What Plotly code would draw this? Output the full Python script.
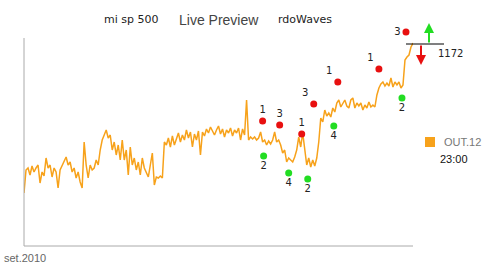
import plotly.graph_objects as go

# ---- data ----
prices = [
    1023, 1046, 1048, 1041, 1050, 1044, 1048, 1051, 1033, 1044,
    1040, 1058, 1048, 1051, 1039, 1048, 1044, 1028, 1046, 1051,
    1056, 1059, 1051, 1054, 1044, 1048, 1038, 1044, 1034, 1028,
    1074, 1051, 1038, 1051, 1046, 1048, 1056, 1051, 1066, 1076,
    1081, 1086, 1078, 1081, 1066, 1074, 1061, 1071, 1056, 1076,
    1056, 1066, 1041, 1069, 1051, 1058, 1046, 1054, 1041, 1058,
    1048, 1044, 1039, 1051, 1063, 1031, 1039, 1038, 1040, 1038,
    1074, 1071, 1078, 1069, 1080, 1071, 1076, 1083, 1074, 1081,
    1076, 1086, 1078, 1084, 1069, 1082, 1076, 1085, 1061, 1084,
    1080, 1087, 1083, 1089, 1085, 1081, 1086, 1090, 1082, 1087,
    1079, 1086, 1083, 1088, 1080, 1086, 1083, 1088, 1076, 1087,
    1081, 1116, 1076, 1079, 1077, 1079, 1076, 1078, 1084, 1074,
    1076, 1071, 1075, 1072, 1076, 1084, 1074, 1076, 1071, 1063,
    1066, 1054, 1058, 1056, 1054, 1059, 1066, 1079, 1069, 1083,
    1066, 1051, 1058, 1049, 1056, 1050, 1058, 1074, 1098, 1094,
    1106, 1100, 1103, 1099, 1108, 1104, 1113, 1116, 1109, 1113,
    1116, 1110, 1108, 1116, 1118, 1108, 1113, 1110, 1113, 1106,
    1111, 1108, 1114, 1109, 1111, 1109, 1121, 1128, 1132, 1134,
    1130, 1133, 1130, 1138, 1129, 1134, 1131, 1134, 1128, 1131,
    1156, 1159, 1161, 1169, 1173,
]
bar_index = list(range(len(prices)))

top_idx = [119, 127.5, 138.5, 144.5, 156.5, 177, 190.5]
top_val = [1095, 1091, 1082, 1112, 1134, 1147, 1184]
top_lbl = ["1", "3", "1", "3", "1", "1", "3"]
top_pos = ["top center", "top center", "top center", "top left",
           "top left", "top left", "middle left"]

bot_idx = [119.5, 132, 141.5, 154.5, 188.5]
bot_val = [1060, 1043, 1037, 1090, 1118]
bot_lbl = ["2", "4", "2", "4", "2"]

last_price = 1172
y_min, y_max = 970, 1190

title_parts = ["mi sp 500", "Live Preview", "rdoWaves"]
legend_name = "OUT.12"
legend_time = "23:00"
x_start_label = "set.2010"

# ---- geometry ----
W, H = 485, 267
L, R, T, B = 24, 72, 26, 21
PW, PH = W - L - R, H - T - B


def px(xp):
    return (xp - L) / PW


def py(yp):
    return (H - B - yp) / PH


def vy(v):
    return (v - y_min) / (y_max - y_min)


ORANGE = "#F7A21B"
RED = "#E81010"
GREEN = "#22DD22"
AXIS = "#aaaaaa"

fig = go.Figure()
fig.add_trace(go.Scatter(
    x=bar_index, y=prices, mode="lines",
    line=dict(color=ORANGE, width=1.5), hoverinfo="skip",
))
fig.add_trace(go.Scatter(
    x=top_idx, y=top_val, mode="markers+text", text=top_lbl,
    textposition=top_pos, cliponaxis=False,
    marker=dict(color=RED, size=7),
    textfont=dict(family="DejaVu Sans", size=10, color="#222"),
))
fig.add_trace(go.Scatter(
    x=bot_idx, y=bot_val, mode="markers+text", text=bot_lbl,
    textposition="bottom center", cliponaxis=False,
    marker=dict(color=GREEN, size=7),
    textfont=dict(family="DejaVu Sans", size=10, color="#222"),
))

ann = []


def txt(xp, yp, s, family, size, color, xanchor="center"):
    ann.append(dict(x=px(xp), y=py(yp), xref="paper", yref="paper", text=s,
                    showarrow=False, xanchor=xanchor, yanchor="middle",
                    font=dict(family=family, size=size, color=color)))


# title fragments
txt(131, 19, title_parts[0], "DejaVu Sans", 11, "#222")
txt(219, 20, title_parts[1], "Liberation Sans", 14, "#444")
txt(305, 19, title_parts[2], "DejaVu Sans", 11, "#222")
# last price label
ann.append(dict(x=px(436), y=vy(last_price) - 10 / PH, xref="paper", yref="paper",
                text=str(last_price), showarrow=False, xanchor="left", yanchor="middle",
                font=dict(family="DejaVu Sans", size=10, color="#222")))
# arrows
ann.append(dict(x=px(429), y=vy(last_price) + 21 / PH, xref="paper", yref="paper",
                showarrow=True, ax=0, ay=21, text="", arrowhead=2, arrowsize=1,
                arrowwidth=2, arrowcolor=GREEN))
ann.append(dict(x=px(421), y=vy(last_price) - 21 / PH, xref="paper", yref="paper",
                showarrow=True, ax=0, ay=-21, text="", arrowhead=2, arrowsize=1,
                arrowwidth=2, arrowcolor=RED))
# legend
txt(442, 142, legend_name, "Liberation Sans", 11, "#777", "left")
txt(438, 159, legend_time, "Liberation Sans", 11, "#111", "left")
# start date
txt(2, 258, x_start_label, "Liberation Sans", 11, "#666", "left")

shapes = [
    # axis lines
    dict(type="line", xref="paper", yref="paper", x0=0, x1=0,
         y0=0, y1=py(38), line=dict(color=AXIS, width=1)),
    dict(type="line", xref="paper", yref="paper", x0=0, x1=1,
         y0=0, y1=0, line=dict(color=AXIS, width=1)),
    # last price line
    dict(type="line", xref="paper", yref="paper", x0=px(406), x1=px(444),
         y0=vy(last_price), y1=vy(last_price), line=dict(color="#000", width=1)),
    # legend swatch
    dict(type="rect", xref="paper", yref="paper", x0=px(425), x1=px(435),
         y0=py(147), y1=py(137), fillcolor=ORANGE, line=dict(width=0)),
]

fig.update_layout(
    width=W, height=H, margin=dict(l=L, r=R, t=T, b=B),
    paper_bgcolor="white", plot_bgcolor="white", showlegend=False,
    annotations=ann, shapes=shapes,
    xaxis=dict(range=[0, len(prices) - 1], showgrid=False, zeroline=False,
               showticklabels=False, ticks="", showline=False),
    yaxis=dict(range=[y_min, y_max], showgrid=False, zeroline=False,
               showticklabels=False, ticks="", showline=False),
)
fig.write_html("out.html")
